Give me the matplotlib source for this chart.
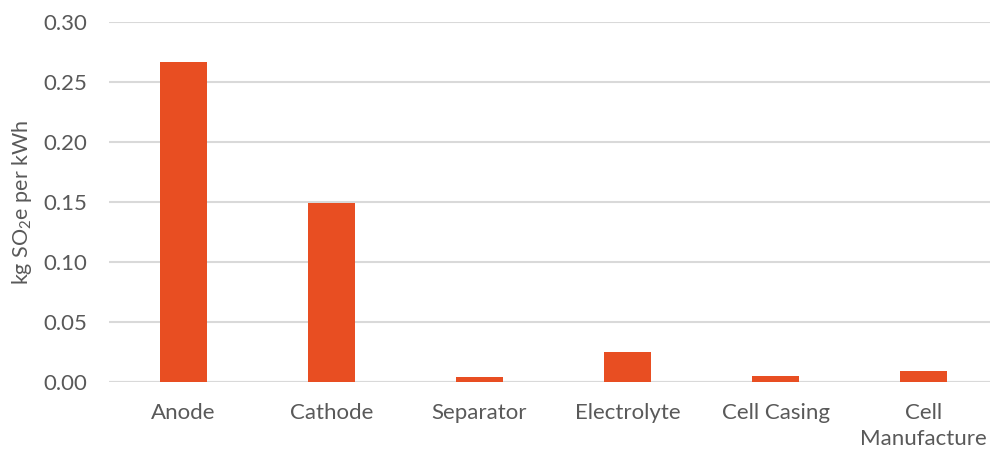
import matplotlib
matplotlib.use("Agg")
import matplotlib.pyplot as plt
import numpy as np

# acidification per kWh by cell component
components = ["Anode", "Cathode", "Separator", "Electrolyte", "Cell Casing", "Cell\nManufacture"]
so2_per_kwh = [0.267, 0.149, 0.004, 0.025, 0.005, 0.009]
y_ticks = [0.00, 0.05, 0.10, 0.15, 0.20, 0.25, 0.30]

plt.rcParams['font.family'] = ['Lato', 'DejaVu Sans']
plt.rcParams['mathtext.default'] = 'regular'

text_color = '#595959'
bar_color = '#E84E22'
grid_color = '#D9D9D9'

fig = plt.figure(figsize=(9.9, 4.5), dpi=100)
ax = fig.add_axes([0.1106, 0.151, 0.8970, 0.8])

x = np.arange(len(components))
ax.bar(x, so2_per_kwh, width=0.315, color=bar_color, zorder=3)

ax.set_xlim(-0.5, len(components) - 0.5)
ax.set_ylim(0, 0.30)
ax.set_yticks(y_ticks)
ax.set_yticklabels([f"{t:.2f}" for t in y_ticks])
ax.set_xticks(x)
ax.set_xticklabels(components, linespacing=1.4)

# light horizontal grid, no frame
ax.yaxis.grid(True, color=grid_color, linewidth=1.5, zorder=0)
ax.set_axisbelow(True)
for s in ax.spines.values():
    s.set_visible(False)
ax.axhline(0, color=grid_color, linewidth=1.5, zorder=2)
ax.tick_params(axis='both', length=0, labelsize=16, colors=text_color)
ax.tick_params(axis='y', pad=16)
ax.tick_params(axis='x', pad=15)
for lbl in ax.get_xticklabels():
    lbl.set_verticalalignment('top')

ax.set_ylabel("kg SO$_2$e per kWh", fontsize=15.5, color=text_color, labelpad=7)

fig.savefig("out.png", dpi=100)
